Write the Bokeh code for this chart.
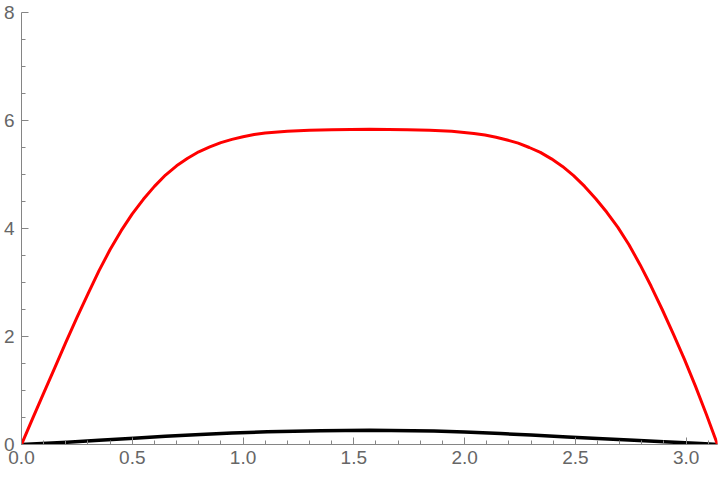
import math
from bokeh.plotting import figure
from bokeh.models import FixedTicker, PrintfTickFormatter, Range1d
from bokeh.embed import file_html
from bokeh.resources import INLINE

# Data
red_x = [0.000, 0.050, 0.100, 0.150, 0.200, 0.250, 0.300, 0.350, 0.400, 0.450,
         0.500, 0.550, 0.600, 0.650, 0.700, 0.750, 0.800, 0.850, 0.900, 0.950,
         1.000, 1.050, 1.100, 1.200, 1.300, 1.400, 1.571,
         1.742, 1.842, 1.942, 2.042, 2.092, 2.142, 2.192, 2.242, 2.292, 2.342,
         2.392, 2.442, 2.492, 2.542, 2.592, 2.642, 2.692, 2.742, 2.792, 2.842,
         2.892, 2.942, 2.992, 3.042, 3.092, 3.1416]
red_y = [0.00, 0.48, 0.95, 1.42, 1.89, 2.35, 2.79, 3.22, 3.61, 3.96,
         4.27, 4.54, 4.78, 4.99, 5.16, 5.30, 5.42, 5.51, 5.59, 5.65,
         5.70, 5.74, 5.77, 5.80, 5.82, 5.83, 5.84,
         5.83, 5.82, 5.80, 5.76, 5.73, 5.69, 5.64, 5.58, 5.50, 5.41,
         5.29, 5.15, 4.98, 4.78, 4.55, 4.30, 4.02, 3.70, 3.33, 2.93,
         2.50, 2.05, 1.58, 1.08, 0.55, 0.00]

black_x = [0.000, 0.206, 0.350, 0.507, 0.650, 0.808, 0.950, 1.109, 1.350,
           1.571, 1.862, 2.000, 2.163, 2.300, 2.464, 2.600, 2.765, 2.900,
           3.066, 3.1416]
black_y = [0.000, 0.042, 0.080, 0.117, 0.155, 0.187, 0.212, 0.234, 0.256,
           0.265, 0.250, 0.232, 0.202, 0.175, 0.140, 0.112, 0.078, 0.050,
           0.018, 0.000]

x_major = [0.0, 0.5, 1.0, 1.5, 2.0, 2.5, 3.0]
x_minor = [0.1, 0.2, 0.3, 0.4, 0.6, 0.7, 0.8, 0.9, 1.1, 1.2, 1.3, 1.4,
           1.6, 1.7, 1.8, 1.9, 2.1, 2.2, 2.3, 2.4, 2.6, 2.7, 2.8, 2.9, 3.1]
y_major = [0, 2, 4, 6, 8]
y_minor = [0.5, 1, 1.5, 2.5, 3, 3.5, 4.5, 5, 5.5, 6.5, 7, 7.5]

AXIS_COLOR = "#858585"
TEXT_COLOR = "#666666"
FONT = "Liberation Sans"

p = figure(width=720, height=480, output_backend="svg", toolbar_location=None,
           x_range=Range1d(0, math.pi), y_range=Range1d(0, 8),
           min_border_left=19, min_border_right=3, min_border_top=12,
           min_border_bottom=36)
p.outline_line_color = None
p.xgrid.visible = False
p.ygrid.visible = False
p.background_fill_color = "white"
p.border_fill_color = "white"

for ax in (p.xaxis[0], p.yaxis[0]):
    ax.axis_line_color = AXIS_COLOR
    ax.axis_line_width = 1
    ax.major_tick_line_color = AXIS_COLOR
    ax.minor_tick_line_color = AXIS_COLOR
    ax.major_tick_in = 7
    ax.major_tick_out = 0
    ax.minor_tick_in = 4
    ax.minor_tick_out = 0
    ax.major_label_text_color = TEXT_COLOR
    ax.major_label_text_font = FONT
    ax.major_label_text_font_size = "19px"

p.xaxis[0].ticker = FixedTicker(ticks=x_major, minor_ticks=x_minor)
p.xaxis[0].formatter = PrintfTickFormatter(format="%.1f")
p.xaxis[0].major_label_standoff = 6
p.yaxis[0].ticker = FixedTicker(ticks=y_major, minor_ticks=y_minor)
p.yaxis[0].formatter = PrintfTickFormatter(format="%d")
p.yaxis[0].major_label_standoff = 7

p.line(black_x, black_y, line_color="black", line_width=3.5, line_join="round")
p.line(red_x, red_y, line_color="#ff0000", line_width=3, line_join="round")

open("out.html", "w").write(file_html(p, INLINE))
